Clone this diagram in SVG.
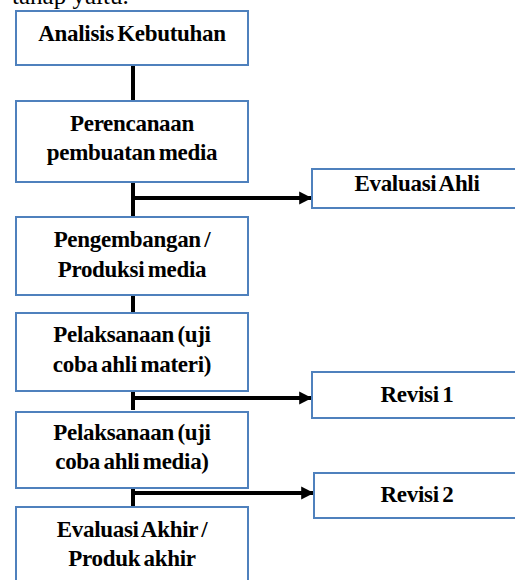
<svg xmlns="http://www.w3.org/2000/svg" width="515" height="580" viewBox="0 0 515 580">
<style>
.box{fill:#fff;stroke:#4f81bd;stroke-width:2}
.t{font-size:23px;text-anchor:middle;fill:#000;letter-spacing:-0.3px;word-spacing:-2px}
.c{stroke:#000;stroke-width:4;fill:none}
</style>
<defs>
<marker id="ah" markerWidth="4" markerHeight="4" refX="3.2" refY="2" orient="auto" markerUnits="strokeWidth">
<path d="M0,0.4 L3.2,2 L0,3.6 Z" fill="#000"/>
</marker>
</defs>
<rect width="515" height="580" fill="#fff"/>
<text x="12" y="4" font-family="Liberation Serif,serif" font-size="25">tahap yaitu.</text>
<g id="connectors">
<line class="c" x1="133" y1="65" x2="133" y2="101"/>
<line class="c" x1="133" y1="182" x2="133" y2="217"/>
<line class="c" x1="133" y1="198" x2="312" y2="198" marker-end="url(#ah)"/>
<line class="c" x1="133" y1="295" x2="133" y2="313"/>
<line class="c" x1="133" y1="376" x2="133" y2="410"/>
<line class="c" x1="133" y1="398" x2="312" y2="398" marker-end="url(#ah)"/>
<line class="c" x1="133" y1="489" x2="133" y2="507"/>
<line class="c" x1="133" y1="493" x2="314" y2="493" marker-end="url(#ah)"/>
</g>
<g font-family="Liberation Serif,serif" font-weight="bold">
<g id="n1"><rect class="box" x="16" y="11" width="232" height="54"/><text class="t" x="132" y="41">Analisis Kebutuhan</text></g>
<g id="n2"><rect class="box" x="16" y="101" width="232" height="81"/><text class="t" x="132" y="131">Perencanaan</text><text class="t" x="132" y="160">pembuatan media</text></g>
<g id="n3"><rect class="box" x="16" y="217" width="232" height="78"/><text class="t" x="132" y="247">Pengembangan /</text><text class="t" x="132" y="277">Produksi media</text></g>
<g id="n4"><rect class="box" x="16" y="313" width="232" height="78"/><text class="t" x="132" y="342">Pelaksanaan (uji</text><text class="t" x="132" y="372">coba ahli materi)</text></g>
<g id="n5"><rect class="box" x="16" y="412" width="232" height="76"/><text class="t" x="132" y="440">Pelaksanaan (uji</text><text class="t" x="132" y="469">coba ahli media)</text></g>
<g id="n6"><rect class="box" x="16" y="507" width="232" height="80"/><text class="t" x="132" y="537">Evaluasi Akhir /</text><text class="t" x="132" y="566">Produk akhir</text></g>
<g id="n7"><rect class="box" x="312" y="169" width="215" height="39"/><text class="t" x="417" y="191">Evaluasi Ahli</text></g>
<g id="n8"><rect class="box" x="312" y="372" width="215" height="46"/><text class="t" x="417" y="402">Revisi 1</text></g>
<g id="n9"><rect class="box" x="314" y="473" width="215" height="45"/><text class="t" x="417" y="502">Revisi 2</text></g>
</g>
</svg>
